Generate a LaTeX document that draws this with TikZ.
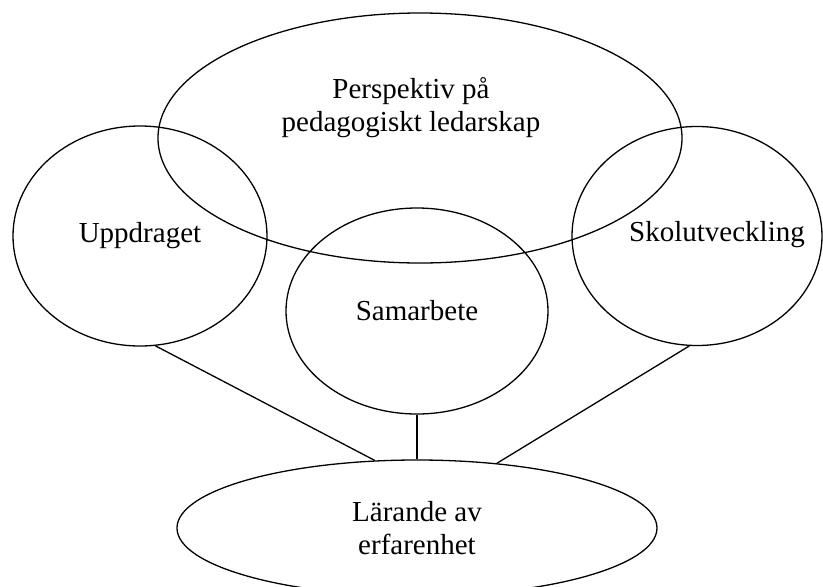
\documentclass[tikz,border=0pt]{standalone}
\usepackage{fontspec}
\setmainfont{Liberation Serif}
\usetikzlibrary{shapes.geometric}

\begin{document}
\begin{tikzpicture}[
        x=1pt, y=-1pt,
        bubble/.style={ellipse, draw, line width=1.3pt, inner sep=0pt, align=center, font=\fontsize{29}{33}\selectfont},
        caption/.style={align=center, inner sep=0pt, font=\fontsize{29}{33}\selectfont},
        link/.style={line width=1.3pt}
    ]
    
    \useasboundingbox (0,0) rectangle (823,587);
    
    \node[bubble, minimum width=524, minimum height=250] (persp) at (420,138) {};
    \node[caption] (perspText) at (411,108) {Perspektiv på\\pedagogiskt ledarskap};
    
    \node[bubble, minimum width=254, minimum height=220] (uppdrag) at (140,236) {Uppdraget};
    \node[bubble, minimum width=262, minimum height=206] (samarb) at (417,311) {Samarbete};
    
    \node[bubble, minimum width=250, minimum height=219] (skolutv) at (697,236) {};
    \node[caption] (skolutvText) at (717,235) {Skolutveckling};
    
    \node[bubble, minimum width=480, minimum height=136] (larande) at (417,528) {Lärande av\\erfarenhet};
    
    \draw[link] (uppdrag.-82) -- (larande.122);
    \draw[link] (samarb.south) -- (samarb.south |- larande.north);
    \draw[link] (skolutv.-94) -- (larande.39);
    
\end{tikzpicture}
\end{document}
